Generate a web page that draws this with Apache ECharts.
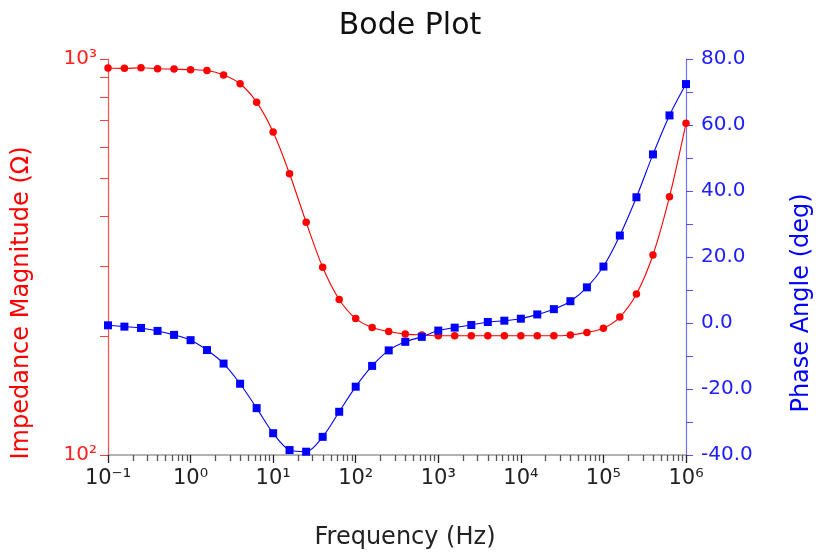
<!DOCTYPE html>
<html>
<head>
<meta charset="utf-8">
<title>Bode Plot</title>
<script src="https://cdn.jsdelivr.net/npm/echarts@6/dist/echarts.min.js"></script>
<style>
  html, body { margin: 0; padding: 0; background: #ffffff; }
  #chart { width: 820px; height: 556px; }
</style>
</head>
<body>
<div id="chart"></div>
<script>
// Sweep frequencies (Hz), five points per decade
const frequencies = [
  0.1, 0.158, 0.251, 0.398, 0.631,
  1, 1.58, 2.51, 3.98, 6.31,
  10, 15.8, 25.1, 39.8, 63.1,
  100, 158, 251, 398, 631,
  1000, 1580, 2510, 3980, 6310,
  10000, 15800, 25100, 39800, 63100,
  100000, 158000, 251000, 398000, 631000,
  1000000
];

// |Z| in ohms
const impedanceMagnitude = [
  949, 947, 950, 945, 943,
  940, 935, 911, 866, 778,
  654, 513, 387, 298, 247,
  221, 210, 205, 202, 201,
  200, 200, 200, 200, 200,
  200, 200, 200, 201, 204,
  209, 223, 255, 320, 449,
  688
];

// Phase angle in degrees
const phaseAngle = [
  -0.7, -1.1, -1.5, -2.4, -3.6,
  -5.2, -8.2, -12.3, -18.4, -25.8,
  -33.4, -38.5, -39.0, -34.5, -26.9,
  -19.3, -13.0, -8.3, -5.7, -4.2,
  -2.3, -1.4, -0.6, 0.3, 0.7,
  1.3, 2.6, 4.2, 6.6, 10.8,
  17.1, 26.5, 38.1, 51.1, 62.9,
  72.4
];

// Decade labels for the two logarithmic axes
const freqTickLabels = ['10\u207B\u00B9', '10\u2070', '10\u00B9', '10\u00B2', '10\u00B3', '10\u2074', '10\u2075', '10\u2076'];
const magTickLabels = ['10\u00B2', '10\u00B3'];

// Tick positions for the helper axes, in log10 units
const freqMajorTicks = [-1, 0, 1, 2, 3, 4, 5, 6];
const freqMinorTicks = [];
for (let d = -1; d < 6; d++) {
  for (let m = 2; m <= 9; m++) freqMinorTicks.push(d + Math.log10(m));
}
const magTicks = [];
for (let m = 1; m <= 10; m++) magTicks.push(2 + Math.log10(m));

const FONT = 'DejaVu Sans';
const RED = '#ff0000';
const BLUE = '#0000ff';

const magPoints = frequencies.map((f, i) => [f, impedanceMagnitude[i]]);
const phasePoints = frequencies.map((f, i) => [f, phaseAngle[i]]);

// value axis laid over the bottom edge that only draws tick marks
function freqTickAxis(values, length, color) {
  return {
    type: 'value',
    min: -1,
    max: 6,
    position: 'bottom',
    axisLine: { show: false, onZero: false },
    axisTick: {
      show: true, inside: false, length: length,
      customValues: values,
      lineStyle: { color: color, width: 1.3 }
    },
    axisLabel: { show: false },
    splitLine: { show: false }
  };
}

const chart = echarts.init(document.getElementById('chart'), null, { renderer: 'canvas' });

chart.setOption({
  backgroundColor: '#ffffff',
  animation: false,
  textStyle: { fontFamily: FONT },
  title: {
    text: 'Bode Plot',
    left: 'center',
    top: 6,
    textStyle: { fontFamily: FONT, fontSize: 30, fontWeight: 'normal', color: '#111111' }
  },
  grid: {
    left: 108, right: 134, top: 59, bottom: 101,
    containLabel: false,
    outerBoundsMode: 'none'
  },
  xAxis: [
    {
      type: 'log',
      logBase: 10,
      min: 0.1,
      max: 1000000,
      position: 'bottom',
      name: 'Frequency (Hz)',
      nameLocation: 'middle',
      nameGap: 71,
      nameTextStyle: { fontFamily: FONT, fontSize: 24, color: '#222222', padding: [0, 0, 0, 16] },
      axisLine: { show: true, onZero: false, lineStyle: { color: '#999999', width: 1.5 } },
      axisTick: { show: false },
      axisLabel: {
        margin: 13,
        fontSize: 21,
        color: '#222222',
        fontFamily: FONT,
        formatter: v => freqTickLabels[Math.round(Math.log10(v)) + 1] || ''
      },
      splitLine: { show: false }
    },
    freqTickAxis(freqMajorTicks, 8, '#222222'),
    freqTickAxis(freqMinorTicks, 6, '#555555')
  ],
  yAxis: [
    {
      type: 'log',
      logBase: 10,
      min: 100,
      max: 1000,
      position: 'left',
      name: 'Impedance Magnitude (\u03A9)',
      nameLocation: 'middle',
      nameRotate: 90,
      nameGap: 74,
      nameTextStyle: { fontFamily: FONT, fontSize: 24, color: RED, padding: [0, 92, 0, 0] },
      axisLine: { show: true, onZero: false, lineStyle: { color: '#ff5050', width: 1.2 } },
      axisTick: { show: false },
      axisLabel: {
        margin: 11,
        fontSize: 20,
        color: '#ff2020',
        fontFamily: FONT,
        formatter: v => magTickLabels[Math.round(Math.log10(v)) - 2] || ''
      },
      splitLine: { show: false }
    },
    {
      type: 'value',
      min: -40,
      max: 80,
      interval: 20,
      position: 'right',
      name: 'Phase Angle (deg)',
      nameLocation: 'middle',
      nameRotate: 90,
      nameGap: 104,
      nameTextStyle: { fontFamily: FONT, fontSize: 24, color: BLUE, padding: [0, 92, 0, 0] },
      axisLine: { show: true, onZero: false, lineStyle: { color: '#7070ff', width: 1.2 } },
      axisTick: { show: true, inside: false, length: 7, lineStyle: { color: '#5050ff', width: 1 } },
      minorTick: { show: true, splitNumber: 2, length: 7, lineStyle: { color: '#5050ff', width: 1 } },
      axisLabel: {
        margin: 15,
        fontSize: 20,
        color: '#2020ff',
        fontFamily: FONT,
        formatter: v => v.toFixed(1)
      },
      splitLine: { show: false }
    },
    {
      // decade and sub-decade ticks of the magnitude axis
      type: 'value',
      min: 2,
      max: 3,
      position: 'left',
      axisLine: { show: false, onZero: false },
      axisTick: {
        show: true, inside: false, length: 8,
        customValues: magTicks,
        lineStyle: { color: '#ff4040', width: 1 }
      },
      axisLabel: { show: false },
      splitLine: { show: false }
    }
  ],
  series: [
    {
      name: 'Impedance Magnitude',
      type: 'line',
      xAxisIndex: 0,
      yAxisIndex: 0,
      data: magPoints,
      smooth: 0.3,
      symbol: 'circle',
      symbolSize: 7.5,
      itemStyle: { color: RED },
      lineStyle: { color: RED, width: 1.1 },
      z: 3
    },
    {
      name: 'Phase Angle',
      type: 'line',
      xAxisIndex: 0,
      yAxisIndex: 1,
      data: phasePoints,
      smooth: 0.3,
      symbol: 'rect',
      symbolSize: 8,
      itemStyle: { color: BLUE },
      lineStyle: { color: BLUE, width: 1.1 },
      z: 4
    }
  ]
});
</script>
</body>
</html>
